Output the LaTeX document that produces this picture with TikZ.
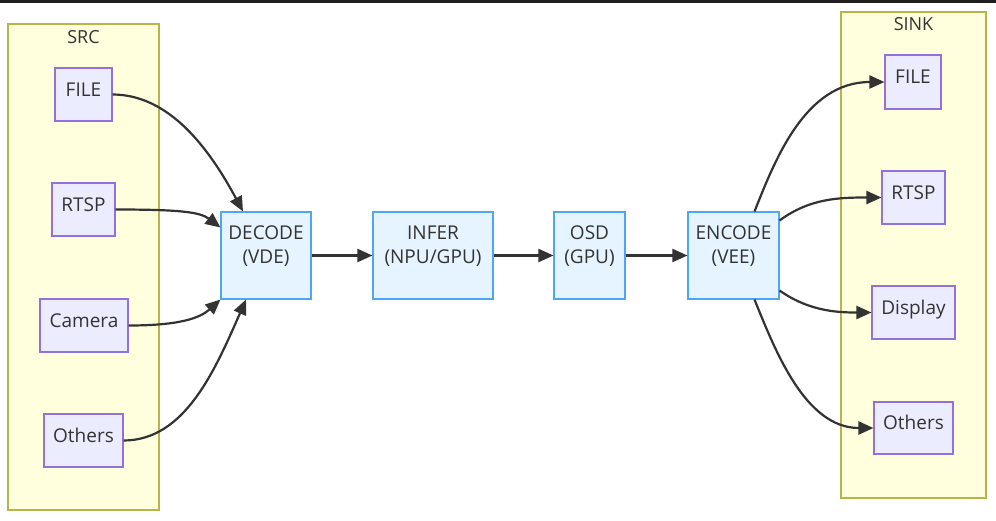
\documentclass[tikz,border=0pt]{standalone}
\usepackage{fontspec}
\setmainfont{Open Sans}
\usetikzlibrary{arrows.meta}
\definecolor{clfill}{HTML}{FFFFDE}
\definecolor{cldraw}{HTML}{B5B548}
\definecolor{nfill}{HTML}{ECECFF}
\definecolor{ndraw}{HTML}{9370DB}
\definecolor{bfill}{HTML}{E6F4FF}
\definecolor{bdraw}{HTML}{4DA6F5}
\definecolor{txt}{HTML}{333333}
\tikzset{
  cluster/.style={draw=cldraw,fill=clfill,line width=1.2pt},
  srcnode/.style={draw=ndraw,fill=nfill,line width=1.1pt,text=txt,font=\fontsize{19}{22}\selectfont,inner sep=0pt,text height=13pt,text depth=10pt},
  midnode/.style={draw=bdraw,fill=bfill,line width=1.1pt,inner sep=0pt},
  midtext/.style={text=txt,font=\fontsize{19}{24}\selectfont,inner sep=0pt,align=center},
  title/.style={text=txt,font=\fontsize{18}{20}\selectfont,inner sep=0pt},
  flow/.style={draw=txt,line width=2.2pt,-{Triangle[length=15pt,width=13pt]}},
}
\begin{document}
\begin{tikzpicture}[x=1pt,y=-1pt]
\useasboundingbox (0,0) rectangle (996,520);
\fill[fill=white] (0,0) rectangle (996,520);
\fill[fill=black!88] (0,0) rectangle (996,3);
% clusters
\draw[cluster] (8,24) rectangle (159,510);
\node[title] (srct) at (83.5,37) {SRC};
\draw[cluster] (841,12) rectangle (986,498);
\node[title] (sinkt) at (913.5,24) {SINK};
% src nodes
\node[srcnode,minimum width=57pt,minimum height=53pt] (sfile) at (83.5,94.5) {FILE};
\node[srcnode,minimum width=63pt,minimum height=53pt] (srtsp) at (83.5,209.5) {RTSP};
\node[srcnode,minimum width=88pt,minimum height=53pt] (scam) at (84,325.5) {Camera};
\node[srcnode,minimum width=79pt,minimum height=53pt] (soth) at (83.5,440.5) {Others};
% middle
\node[midnode,minimum width=90pt,minimum height=87pt] (dec) at (266,255.5) {};
\node[midtext] (dect) at ([yshift=9pt]dec.center) {DECODE\\(VDE)};
\node[midnode,minimum width=120pt,minimum height=87pt] (inf) at (433,255.5) {};
\node[midtext] (inft) at ([yshift=9pt]inf.center) {INFER\\(NPU/GPU)};
\node[midnode,minimum width=71pt,minimum height=87pt] (osd) at (589.5,255.5) {};
\node[midtext] (osdt) at ([yshift=9pt]osd.center) {OSD\\(GPU)};
\node[midnode,minimum width=91pt,minimum height=87pt] (enc) at (733.5,255.5) {};
\node[midtext] (enct) at ([yshift=9pt]enc.center) {ENCODE\\(VEE)};
% sink nodes
\node[srcnode,minimum width=56pt,minimum height=54pt] (kfile) at (913,82) {FILE};
\node[srcnode,minimum width=63pt,minimum height=53pt] (krtsp) at (913.5,197.5) {RTSP};
\node[srcnode,minimum width=83pt,minimum height=53pt] (kdisp) at (913.5,312.5) {Display};
\node[srcnode,minimum width=79pt,minimum height=52pt] (koth) at (913.5,428) {Others};
% edges left
\draw[flow] (sfile.east) .. controls (170,94.5) and (210,150) .. ([xshift=-23pt]dec.north);
\draw[flow] (srtsp.east) .. controls (180,209.5) and (200,212) .. ([yshift=28pt]dec.west);
\draw[flow] (scam.east) .. controls (180,325.5) and (200,318) .. (dec.south west);
\draw[flow] (soth.east) .. controls (185,440.5) and (215,370) .. ([xshift=-20pt]dec.south);
% chain
\draw[flow] (dec) -- (inf);
\draw[flow] (inf) -- (osd);
\draw[flow] (osd) -- (enc);
% edges right
\draw[flow] ([xshift=21pt]enc.north) .. controls (775,160) and (805,82) .. (kfile.west);
\draw[flow] ([yshift=35pt]enc.east) .. controls (810,198) and (840,197.5) .. (krtsp.west);
\draw[flow] ([yshift=-35pt]enc.east) .. controls (810,312) and (840,312.5) .. (kdisp.west);
\draw[flow] ([xshift=21pt]enc.south) .. controls (775,350) and (805,428) .. (koth.west);
\end{tikzpicture}
\end{document}
